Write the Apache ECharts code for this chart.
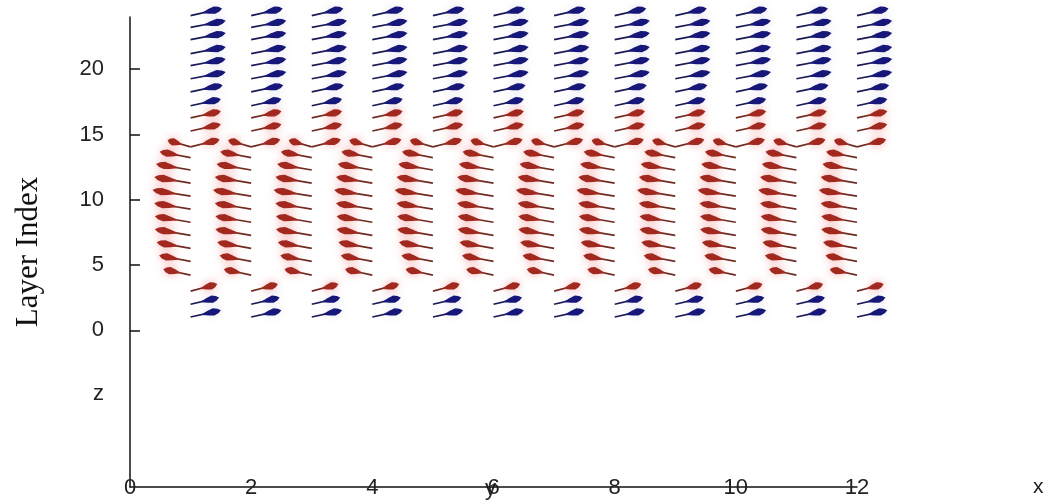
<!DOCTYPE html>
<html>
<head>
<meta charset="utf-8">
<script src="https://cdn.jsdelivr.net/npm/echarts@6/dist/echarts.min.js"></script>
<style>
  html, body { margin: 0; padding: 0; background: #fff; }
  #chart { width: 1052px; height: 504px; }
</style>
</head>
<body>
<div id="chart"></div>
<script>
// lattice columns (x of arrow tails)
const colX = [1, 2, 3, 4, 5, 6, 7, 8, 9, 10, 11, 12]

// one entry per arrow row, top to bottom: tail y, vector dx / dy, colour kind
const rowTailY = [24.1, 23.2, 22.27, 21.2, 20.27, 19.27, 18.27, 17.2, 16.27, 15.27, 14.05, 14.05,
  13.23, 12.28, 11.28, 10.28, 9.28, 8.28, 7.28, 6.28, 5.28, 4.23, 3.0, 2.0, 1.02]
const rowDx = [0.52, 0.58, 0.58, 0.58, 0.58, 0.58, 0.53, 0.5, 0.5, 0.5, 0.48, -0.38,
  -0.51, -0.57, -0.6, -0.63, -0.6, -0.59, -0.59, -0.56, -0.52, -0.45, 0.44, 0.47, 0.5]
const rowDy = [0.56, 0.51, 0.51, 0.51, 0.51, 0.51, 0.51, 0.51, 0.51, 0.51, 0.56, 0.51,
  0.45, 0.46, 0.46, 0.46, 0.46, 0.46, 0.46, 0.46, 0.45, 0.45, 0.54, 0.51, 0.51]
const rowKind = ['blue', 'blue', 'blue', 'blue', 'blue', 'blue', 'blue', 'blue', 'red', 'red', 'red', 'red',
  'red', 'red', 'red', 'red', 'red', 'red', 'red', 'red', 'red', 'red', 'red', 'blue', 'blue']

// axis ticks / labels
const xTicks = [0, 2, 4, 6, 8, 10, 12]
const yTicks = [0, 5, 10, 15, 20]
const zLabelAt = -4.85

const colors = {
  blue: { head: '#17177a', shaft: '#1b1b55', glow: 'rgba(120,120,170,0.2)' },
  red: { head: '#a2291f', shaft: '#6f2b22', glow: 'rgba(235,95,95,0.55)' }
}

const makeData = (kind) => {
  const out = []
  colX.forEach(x => {
    rowTailY.forEach((y, r) => {
      if (rowKind[r] === kind) out.push([x, y, rowDx[r], rowDy[r]])
    })
  })
  return out
}

const arrowItem = (kind) => (params, api) => {
  const x = api.value(0), y = api.value(1)
  const p0 = api.coord([x, y])
  const p1 = api.coord([x + api.value(2), y + api.value(3)])
  const vx = p1[0] - p0[0], vy = p1[1] - p0[1]
  const len = Math.sqrt(vx * vx + vy * vy)
  const ux = vx / len, uy = vy / len
  const nx = -uy, ny = ux
  const at = (t, w) => [p0[0] + ux * len * t + nx * w, p0[1] + uy * len * t + ny * w]
  const c = colors[kind]
  return {
    type: 'group',
    children: [
      {
        type: 'line',
        shape: { x1: p0[0], y1: p0[1], x2: at(0.7, 0)[0], y2: at(0.7, 0)[1] },
        style: { stroke: c.shaft, lineWidth: 1.7 }
      },
      {
        type: 'polygon',
        shape: { points: [p1, at(0.9, 2.4), at(0.76, 3.7), at(0.58, 2.4), at(0.4, 0.6), at(0.4, -0.6), at(0.58, -2.4), at(0.76, -3.7), at(0.9, -2.4)] },
        style: { fill: c.head, shadowBlur: 8, shadowColor: c.glow }
      }
    ]
  }
}

const chart = echarts.init(document.getElementById('chart'))

const option = {
  animation: false,
  backgroundColor: '#fff',
  grid: { left: 130, right: 195, top: 17, bottom: 17 },
  xAxis: {
    type: 'value',
    min: 0,
    max: 12,
    interval: 2,
    name: 'x',
    nameLocation: 'end',
    nameGap: 176,
    nameTextStyle: { fontSize: 21, color: '#222', fontFamily: 'Liberation Sans' },
    axisLine: { onZero: false, lineStyle: { color: '#111', width: 1.5 } },
    axisTick: { show: false },
    splitLine: { show: false },
    axisLabel: {
      customValues: xTicks,
      margin: -10,
      fontSize: 22,
      color: '#222',
      fontFamily: 'Liberation Sans'
    }
  },
  yAxis: {
    type: 'value',
    min: -12,
    max: 24,
    name: 'Layer Index',
    nameLocation: 'middle',
    nameGap: 86,
    nameTextStyle: { fontSize: 31, color: '#111', fontFamily: 'Liberation Serif' },
    axisLine: { show: true, onZero: false, lineStyle: { color: '#111', width: 1.5 } },
    axisTick: { show: true, inside: true, length: 10, customValues: yTicks, lineStyle: { color: '#111', width: 1.5 } },
    splitLine: { show: false },
    axisLabel: {
      customValues: [zLabelAt].concat(yTicks),
      formatter: (v) => (v < 0 ? 'z' : String(v)),
      margin: 26,
      fontSize: 22,
      color: '#222',
      fontFamily: 'Liberation Sans'
    }
  },
  series: [
    { type: 'custom', name: 'red', clip: false, renderItem: arrowItem('red'), data: makeData('red') },
    { type: 'custom', name: 'blue', clip: false, renderItem: arrowItem('blue'), data: makeData('blue') }
  ]
}

chart.setOption(option)

// the stray "y" axis letter sitting on the x axis near 6
const yPos = chart.convertToPixel({ xAxisIndex: 0, yAxisIndex: 0 }, [5.95, -12])
chart.setOption({
  graphic: [{
    type: 'text',
    x: yPos[0],
    y: yPos[1] + 2,
    style: { text: 'y', fontSize: 22, fill: '#222', fontFamily: 'Liberation Sans', align: 'center', verticalAlign: 'middle' }
  }]
})
</script>
</body>
</html>
